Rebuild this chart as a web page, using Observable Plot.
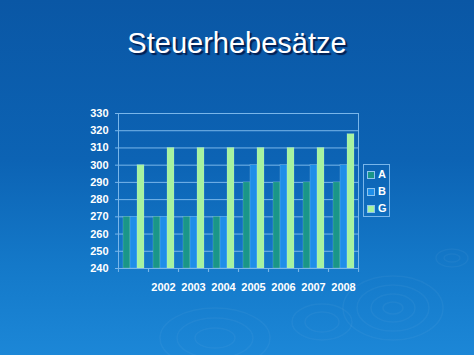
<!DOCTYPE html>
<html><head><meta charset="utf-8">
<script src="https://cdn.jsdelivr.net/npm/d3@7"></script>
<script src="https://cdn.jsdelivr.net/npm/@observablehq/plot@0.6"></script>
<style>
html,body{margin:0;padding:0;background:#0c62b2;}
#slide{position:relative;width:474px;height:355px;overflow:hidden;
  background:linear-gradient(180deg,#0a57a5 0%,#0c63b4 45%,#1479c9 75%,#1c87d7 100%);
  font-family:"Liberation Sans",Arial,sans-serif;}
#deco{position:absolute;left:0;top:0;}
#title{position:absolute;left:0;top:29px;width:474px;text-align:center;color:#fff;
  font-size:29px;line-height:29px;text-shadow:2px 2px 1px rgba(0,10,50,0.75);}
#chart{position:absolute;left:0;top:0;}
#legend{position:absolute;left:363px;top:164px;width:25px;height:50px;border:1px solid #79b6ea;
  padding-top:1px;box-sizing:content-box;}
.li{height:17px;line-height:17px;display:flex;align-items:center;padding-left:3px;
  color:#fff;font-weight:bold;font-size:11px;}
.sw{width:6px;height:6px;border:1px solid #8fc6ef;margin-right:3px;}
</style></head><body>
<div id="slide">
  <svg id="deco" width="474" height="355">
    <g fill="none" stroke="#ffffff" stroke-opacity="0.04" stroke-width="1.5">
      <ellipse cx="393" cy="308" rx="50" ry="32"/><ellipse cx="393" cy="308" rx="36" ry="23"/>
      <ellipse cx="393" cy="308" rx="22" ry="14"/><ellipse cx="393" cy="308" rx="10" ry="6"/>
      <ellipse cx="322" cy="322" rx="30" ry="18"/><ellipse cx="322" cy="322" rx="17" ry="10"/>
      <ellipse cx="215" cy="338" rx="55" ry="30"/><ellipse cx="215" cy="338" rx="38" ry="20"/>
      <ellipse cx="215" cy="338" rx="20" ry="10"/>
      <ellipse cx="452" cy="258" rx="16" ry="9"/><ellipse cx="452" cy="258" rx="8" ry="4"/>
    </g>
  </svg>
  <div id="title"></div>
  <div id="chart"></div>
  <div id="legend"></div>
</div>
<script>
const titleText = "Steuerhebesätze";
const categories = ["", "2002", "2003", "2004", "2005", "2006", "2007", "2008"];
const seriesNames = ["A", "B", "G"];
const valuesA = [270, 270, 270, 270, 290, 290, 290, 290];
const valuesB = [270, 270, 270, 270, 300, 300, 300, 300];
const valuesG = [300, 310, 310, 310, 310, 310, 310, 318];
const yTicks = [240, 250, 260, 270, 280, 290, 300, 310, 320, 330];
const seriesColors = ["#1a9688", "#1e8ee8", "#a6f3a0"];

const rows = [];
const valueLists = [valuesA, valuesB, valuesG];
categories.forEach((c, i) => {
  seriesNames.forEach((s, j) => rows.push({cat: c, series: s, value: valueLists[j][i]}));
});

document.getElementById("title").textContent = titleText;

const W = 474, H = 355, mL = 117, mR = 116, mT = 113, mB = 87;
const yMin = yTicks[0], yMax = yTicks[yTicks.length - 1];
const lineColor = "#79b6ea";
const halfStep = (W - mL - mR) / categories.length / 2;

const plot = Plot.plot({
  width: W, height: H,
  marginTop: mT, marginBottom: mB, marginLeft: mL, marginRight: mR,
  style: {background: "transparent", fontFamily: "'Liberation Sans', Arial, sans-serif", color: "white", overflow: "visible"},
  fx: {domain: categories, padding: 0},
  x: {domain: seriesNames, paddingInner: 0, paddingOuter: 0.6, axis: null},
  y: {domain: [yMin, yMax]},
  color: {domain: seriesNames, range: seriesColors},
  marks: [
    Plot.gridY(yTicks, {stroke: lineColor, strokeOpacity: 1, strokeWidth: 1}),
    Plot.barY(rows, {fx: "cat", x: "series", y1: () => yMin, y2: "value", fill: "series",
      stroke: "#d6f2ff", strokeOpacity: 0.3, strokeWidth: 0.6}),
    Plot.ruleY([yMin], {stroke: lineColor}),
    Plot.frame({anchor: "left", facetAnchor: "left", stroke: lineColor, strokeOpacity: 1}),
    Plot.frame({anchor: "right", facetAnchor: "right", stroke: lineColor, strokeOpacity: 1}),
    Plot.axisY(yTicks, {tickSize: 3, tickPadding: 7, stroke: lineColor, fill: "white",
      fontSize: 11, fontWeight: "bold", label: null}),
    Plot.axisFx({anchor: "bottom", tickSize: 0, tickPadding: 15, fill: "white", fontSize: 11, fontWeight: "bold", label: null}),
    Plot.axisFx({anchor: "bottom", tickSize: 4, tickFormat: () => "", dx: -halfStep, stroke: lineColor, label: null}),
    Plot.axisFx([categories[categories.length - 1]], {anchor: "bottom", tickSize: 4, tickFormat: () => "", dx: halfStep, stroke: lineColor, label: null})
  ]
});
document.getElementById("chart").appendChild(plot);

const color = plot.scale("color");
const legend = document.getElementById("legend");
seriesNames.forEach(s => {
  const row = document.createElement("div");
  row.className = "li";
  const sw = document.createElement("span");
  sw.className = "sw";
  sw.style.background = color.apply(s);
  row.appendChild(sw);
  row.appendChild(document.createTextNode(s));
  legend.appendChild(row);
});
</script>
</body></html>
